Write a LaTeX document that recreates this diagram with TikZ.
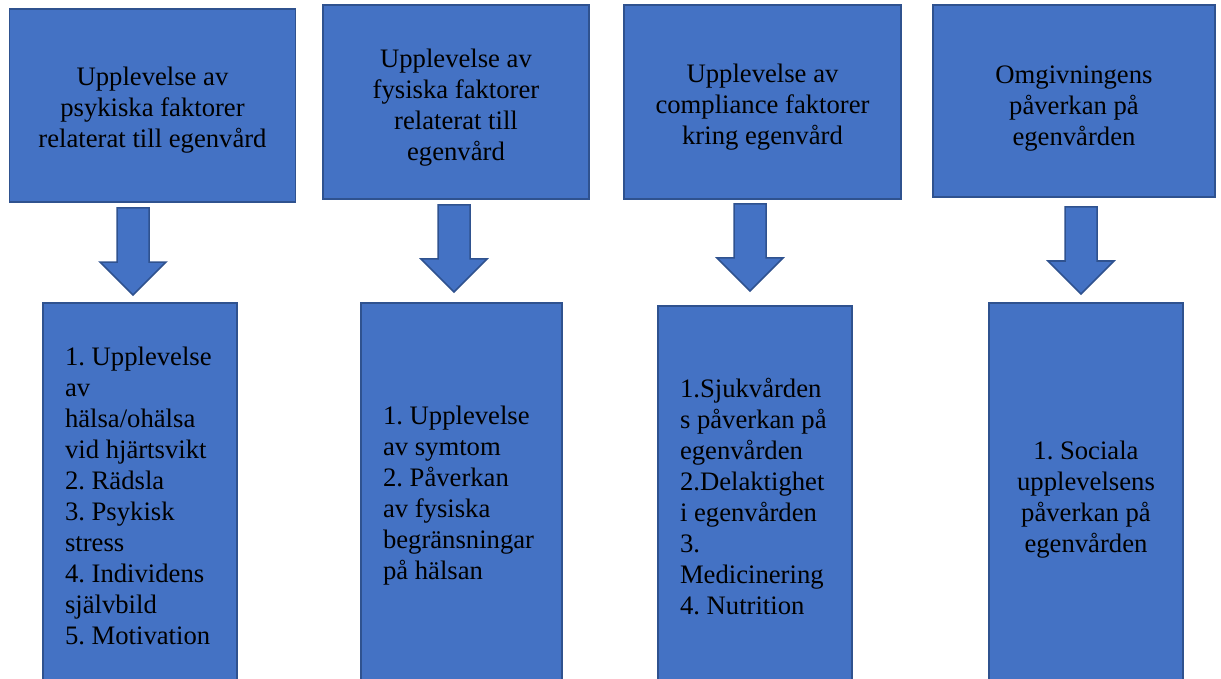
\documentclass[tikz,border=0pt]{standalone}
\usepackage{fontspec}
\setmainfont{Liberation Serif}
\definecolor{boxblue}{RGB}{68,114,196}
\definecolor{boxedge}{RGB}{47,82,143}
\newcommand{\sinkby}[1]{\rule{0pt}{#1}}

\begin{document}
\begin{tikzpicture}[
        x=1pt, y=-1pt,
        every node/.style={font=\fontsize{26.67}{31}\selectfont\frenchspacing},
        topbox/.style={rectangle, draw=boxedge, fill=boxblue, line width=1.5pt, align=center, inner sep=0pt},
        listbox/.style={rectangle, draw=boxedge, fill=boxblue, line width=1.5pt, align=flush left, inner xsep=22pt, inner ysep=0pt},
        blockarrow/.style={draw=boxedge, fill=boxblue, line width=1.5pt, line join=miter}
    ]
        \useasboundingbox (0,0) rectangle (1221,679);

        % themes
        \node [topbox, minimum width=286pt, minimum height=193pt] (psyk) at (152.5,105.5) {\sinkby{28pt}Upplevelse av\\psykiska faktorer\\relaterat till egenvård};
        \node [topbox, minimum width=266pt, minimum height=194pt] (fys) at (456,102) {\sinkby{30pt}Upplevelse av\\fysiska faktorer\\relaterat till\\egenvård};
        \node [topbox, minimum width=277pt, minimum height=194pt] (compl) at (762.5,102) {\sinkby{28pt}Upplevelse av\\compliance faktorer\\kring egenvård};
        \node [topbox, minimum width=282pt, minimum height=192pt] (omgiv) at (1074,101) {\sinkby{32pt}Omgivningens\\påverkan på\\egenvården};

        % subthemes
        \node [listbox, text width=150pt, minimum height=385pt] (psyksub) at (140,495.5) {1. Upplevelse\\av\\hälsa/ohälsa\\vid hjärtsvikt\\2. Rädsla\\3. Psykisk\\stress\\4. Individens\\självbild\\5. Motivation};
        \node [listbox, text width=157pt, minimum height=385pt] (fyssub) at (461.5,495.5) {1. Upplevelse\\av symtom\\2. Påverkan\\av fysiska\\begränsningar\\på hälsan};
        \node [listbox, text width=150pt, minimum height=382pt] (complsub) at (755,497) {1.Sjukvården\\s påverkan på\\egenvården\\2.Delaktighet\\i egenvården\\3.\\Medicinering\\4. Nutrition};
        \node [topbox, minimum width=194pt, minimum height=385pt] (omgivsub) at (1086,495.5) {\sinkby{26pt}1. Sociala\\upplevelsens\\påverkan på\\egenvården};

        % block arrows
        \foreach \cx/\ty [count=\i] in {133/208, 454/205, 750/204, 1081/207} {
            \coordinate (a\i) at (\cx,\ty);
            \draw [blockarrow] (a\i) ++(-16,0) -- ++(32,0) -- ++(0,54) -- ++(17,0) -- ++(-33,33) -- ++(-33,-33) -- ++(17,0) -- cycle;
        }
    \end{tikzpicture}
\end{document}
